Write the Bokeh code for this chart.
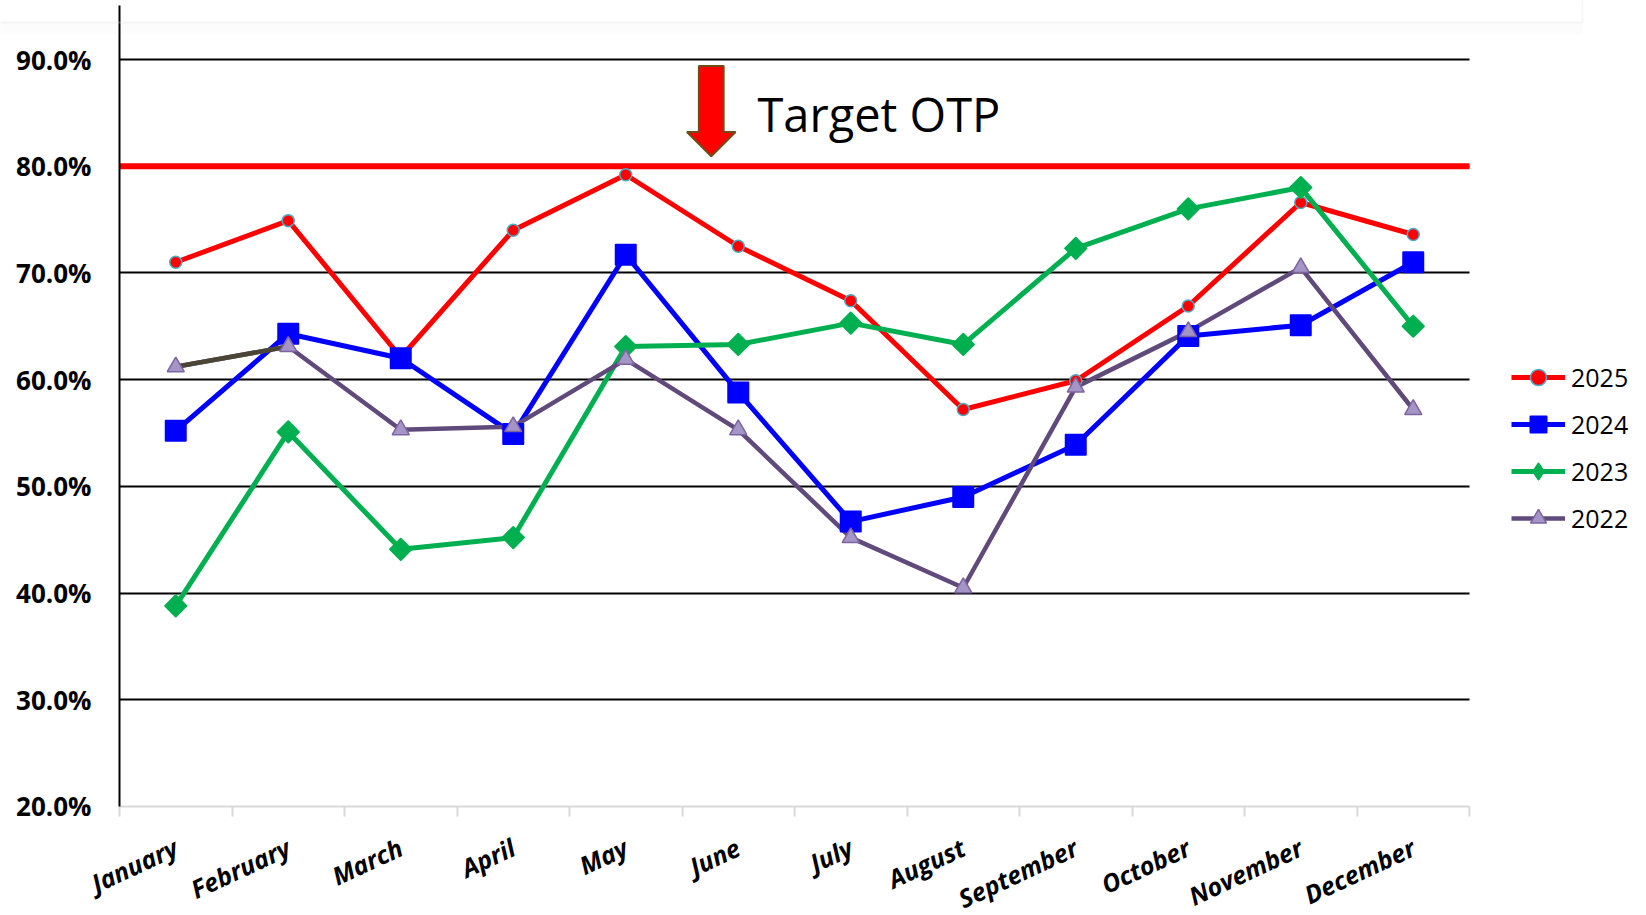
import numpy as np
from bokeh.plotting import figure
from bokeh.models import (FixedTicker, PrintfTickFormatter, Label, Legend,
                          LegendItem, BoxAnnotation)
from bokeh.embed import file_html
from bokeh.resources import INLINE

# ---------------- data ----------------
MONTHS = ["January", "February", "March", "April", "May", "June", "July",
          "August", "September", "October", "November", "December"]
OTP_2025 = [71.0, 74.9, 62.1, 74.0, 79.2, 72.5, 67.4, 57.2, 59.9, 66.9, 76.6, 73.6]
OTP_2024 = [55.2, 64.3, 62.0, 54.9, 71.7, 58.8, 46.7, 49.0, 53.9, 64.1, 65.1, 71.0]
OTP_2023 = [38.8, 55.1, 44.1, 45.2, 63.1, 63.3, 65.3, 63.3, 72.3, 76.0, 78.0, 65.0]
OTP_2022 = [61.2, 63.1, 55.3, 55.6, 61.9, 55.3, 45.2, 40.5, 59.3, 64.5, 70.5, 57.2]
YEARS = ["2025", "2024", "2023", "2022"]
TARGET_OTP = 80.0
TARGET_LABEL = "Target OTP"
Y_TICKS = [20, 30, 40, 50, 60, 70, 80, 90]

# ---------------- figure ----------------
n = len(MONTHS)
xc = [i + 0.5 for i in range(n)]
Y_MIN, Y_TOP, Y_AXIS_TOP = 9.879, 95.529, 95.06
X_MIN, X_MAX = -1.05778, 13.52

p = figure(width=1640, height=914, x_range=(X_MIN, X_MAX), y_range=(Y_MIN, Y_TOP),
           output_backend="svg", toolbar_location=None,
           min_border_left=0, min_border_right=0, min_border_top=0,
           min_border_bottom=0)
p.outline_line_color = None
p.background_fill_color = "white"

# grid
p.xgrid.visible = False
p.ygrid.ticker = FixedTicker(ticks=[t for t in Y_TICKS if t > Y_TICKS[0]])
p.ygrid.grid_line_color = "black"
p.ygrid.grid_line_width = 2
p.ygrid[0].cross_bounds = (0, n)

# y axis (drawn at x = 0, inside the frame)
p.yaxis.fixed_location = 0
p.yaxis.ticker = FixedTicker(ticks=Y_TICKS)
p.yaxis.formatter = PrintfTickFormatter(format="%.1f%%")
p.yaxis.bounds = (Y_TICKS[0], Y_AXIS_TOP)
p.yaxis.major_tick_out = 0
p.yaxis.major_tick_in = 0
p.yaxis.minor_tick_out = 0
p.yaxis.minor_tick_in = 0
p.yaxis.axis_line_color = "black"
p.yaxis.axis_line_width = 2
p.yaxis.major_label_text_font = "Open Sans"
p.yaxis.major_label_text_font_size = "26px"
p.yaxis.major_label_text_font_style = "bold"
p.yaxis.major_label_text_color = "black"
p.yaxis.major_label_standoff = 28

# x axis (drawn at 20 %, inside the frame)
p.xaxis.fixed_location = Y_TICKS[0]
p.xaxis.bounds = (0, n)
p.xaxis.ticker = FixedTicker(ticks=xc, minor_ticks=list(range(n + 1)))
p.xaxis.major_label_overrides = {x: m for x, m in zip(xc, MONTHS)}
p.xaxis.major_tick_out = 0
p.xaxis.major_tick_in = 0
p.xaxis.minor_tick_out = 10
p.xaxis.minor_tick_in = 0
p.xaxis.minor_tick_line_color = "#d9d9d9"
p.xaxis.minor_tick_line_width = 2
p.xaxis.axis_line_color = "#d9d9d9"
p.xaxis.axis_line_width = 2
p.xaxis.major_label_orientation = np.deg2rad(25)
p.xaxis.major_label_text_font = "Open Sans"
p.xaxis.major_label_text_font_size = "25px"
p.xaxis.major_label_text_font_style = "bold italic"
p.xaxis.major_label_text_color = "black"
p.xaxis.major_label_standoff = 29

# card edge at the top of the page
p.add_layout(BoxAnnotation(left=0, right=1582, top=22, bottom=34,
                           left_units="canvas", right_units="canvas",
                           top_units="canvas", bottom_units="canvas",
                           fill_color="#808080", fill_alpha=0.025, line_alpha=0))
p.add_layout(BoxAnnotation(left=-10, right=1582, top=-10, bottom=22,
                           left_units="canvas", right_units="canvas",
                           top_units="canvas", bottom_units="canvas",
                           fill_alpha=0, line_color="#e3e3e3", line_width=2))

# target line
p.line([0, n], [TARGET_OTP, TARGET_OTP], line_color="#ff0000", line_width=6)

# arrow pointing at target line
ax_c, ax_top, ax_base, ax_tip = 5.26, 89.4, 83.2, 80.94
sw, hw = 0.11, 0.216
p.patch([ax_c - sw, ax_c + sw, ax_c + sw, ax_c + hw, ax_c, ax_c - hw, ax_c - sw],
        [ax_top, ax_top, ax_base, ax_base, ax_tip, ax_base, ax_base],
        fill_color="#ff0000", line_color="#6b4e16", line_width=2)
p.add_layout(Label(x=5.671, y=84.91, text=TARGET_LABEL, text_font="Open Sans",
                   text_font_size="47px", text_baseline="alphabetic",
                   text_color="black"))

# lines (drawn first, in series order)
l25 = p.line(xc, OTP_2025, line_color="#ff0000", line_width=5)
l24 = p.line(xc, OTP_2024, line_color="#0000ff", line_width=5)
l23 = p.line(xc, OTP_2023, line_color="#00b050", line_width=5)
l22 = p.line(xc, OTP_2022, line_color="#604a7b", line_width=4.5)
p.line(xc[:2], OTP_2022[:2], line_color="#4a4534", line_width=4.5)

# markers
m25 = p.scatter(xc, OTP_2025, marker="circle", size=12, fill_color="#ff0000",
                line_color="#4bacc6", line_width=1.5)
m24 = p.scatter(xc, OTP_2024, marker="square", size=20, fill_color="#0000ff",
                line_color="#0000ff", line_width=2, line_join="round")
m23 = p.scatter(xc, OTP_2023, marker="square", angle=np.pi / 4, size=15,
                fill_color="#00b050", line_color="#00b050", line_width=2,
                line_join="round")
m22 = p.scatter(xc, OTP_2022, marker="triangle", size=17, fill_color="#a594c6",
                line_color="#7d64a0", line_width=1.5)
# diamond used only for the legend key of 2023 (its single point is not drawn)
k23 = p.scatter(x=[float("nan")], y=[float("nan")], marker="diamond", size=20,
                fill_color="#00b050", line_color="#00b050", line_width=2,
                line_join="round")

legend = Legend(items=[LegendItem(label=YEARS[0], renderers=[l25, m25]),
                       LegendItem(label=YEARS[1], renderers=[l24, m24]),
                       LegendItem(label=YEARS[2], renderers=[l23, k23]),
                       LegendItem(label=YEARS[3], renderers=[l22, m22])],
                location=(1511, 376), orientation="vertical",
                glyph_width=54, glyph_height=40, label_height=40, spacing=7,
                padding=0, margin=0, label_standoff=6,
                border_line_alpha=0, background_fill_alpha=0,
                label_text_font="Open Sans", label_text_font_size="25px",
                label_text_color="black")
p.add_layout(legend)

open("out.html", "w").write(file_html(p, INLINE))
